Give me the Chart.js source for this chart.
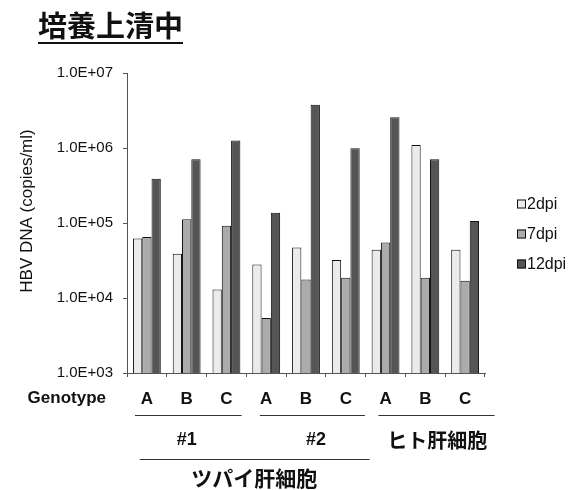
<!DOCTYPE html>
<html><head><meta charset="utf-8">
<script src="https://cdn.jsdelivr.net/npm/chart.js@4"></script>
<style>html,body{margin:0;padding:0;background:#fff}#wrap{width:579px;height:490px;position:relative}</style>
</head><body><div id="wrap"><canvas id="c" width="579" height="490"></canvas></div>
<script>
const categories = ['A','B','C','A','B','C','A','B','C'];
const groupLabels = ['#1','#2','ヒト肝細胞'];
const superGroupLabel = 'ツパイ肝細胞';
const seriesNames = ['2dpi','7dpi','12dpi'];
const dpi2 = [62000, 39000, 13000, 28000, 47000, 32000, 44000, 1100000, 44000];
const dpi7 = [65000, 112000, 92000, 5400, 17700, 18600, 55000, 18600, 17000];
const dpi12 = [390000, 710000, 1260000, 137000, 3780000, 990000, 2570000, 710000, 106000];
const yTickValues = [1e3, 1e4, 1e5, 1e6, 1e7];
const yTickLabels = ['1.0E+03','1.0E+04','1.0E+05','1.0E+06','1.0E+07'];
const titleText = '培養上清中';
const yTitle = 'HBV DNA (copies/ml)';
const xTitle = 'Genotype';

const fills = ['#ebebeb','#ababab','#555555'];
// group bracket spans in category-index units (start, end, label centre)
const groupSpans = [[-0.3, 2.38, 1.0], [2.84, 5.48, 4.25], [5.82, 8.74, 7.3]];
const superSpan = [-0.18, 5.6, 2.7];
const SANS = 'Liberation Sans, Arial, sans-serif';
const CJK = '"Noto Sans CJK JP", sans-serif';

function px(xs, v) {
  const w = xs.getPixelForValue(1) - xs.getPixelForValue(0);
  return xs.getPixelForValue(0) + v * w;
}

const extras = {
  id: 'extras',
  afterDraw(chart) {
    const ctx = chart.ctx;
    const xs = chart.scales.x;
    ctx.save();
    ctx.fillStyle = '#111';
    // title
    ctx.font = 'bold 29px ' + CJK;
    ctx.textBaseline = 'alphabetic';
    ctx.textAlign = 'left';
    ctx.fillText(titleText, 38, 37);
    const tw = ctx.measureText(titleText).width;
    ctx.strokeStyle = '#111'; ctx.lineWidth = 2;
    ctx.beginPath(); ctx.moveTo(38, 43); ctx.lineTo(38 + tw, 43); ctx.stroke();
    // y title
    ctx.save();
    ctx.translate(27, 211);
    ctx.rotate(-Math.PI / 2);
    ctx.textAlign = 'center'; ctx.textBaseline = 'middle';
    ctx.font = '17px ' + SANS;
    ctx.fillText(yTitle, 0, 0);
    ctx.restore();
    // Genotype
    ctx.font = 'bold 17px ' + SANS;
    ctx.textAlign = 'right'; ctx.textBaseline = 'middle';
    ctx.fillText(xTitle, 106, 398);
    // legend
    ctx.textAlign = 'left';
    ctx.font = '16px ' + SANS;
    const ly = [204, 234, 264];
    chart.data.datasets.forEach((ds, i) => {
      ctx.fillStyle = ds.backgroundColor;
      ctx.fillRect(517, ly[i] - 4.5, 9, 9);
      ctx.strokeStyle = '#111'; ctx.lineWidth = 1;
      ctx.strokeRect(517.5, ly[i] - 4, 8, 8);
      ctx.fillStyle = '#111';
      ctx.fillText(ds.label, 527, ly[i] + 1);
    });
    // group lines + labels
    ctx.lineWidth = 1; ctx.strokeStyle = '#333';
    for (let g = 0; g < groupLabels.length; g++) {
      const s = groupSpans[g];
      ctx.beginPath(); ctx.moveTo(px(xs, s[0]), 415.5); ctx.lineTo(px(xs, s[1]), 415.5); ctx.stroke();
      ctx.textAlign = 'center';
      ctx.font = g < 2 ? 'bold 18px ' + SANS : 'bold 20px ' + CJK;
      ctx.fillText(groupLabels[g], px(xs, s[2]), 440);
    }
    ctx.beginPath(); ctx.moveTo(px(xs, superSpan[0]), 459.5); ctx.lineTo(px(xs, superSpan[1]), 459.5); ctx.stroke();
    ctx.font = 'bold 21px ' + CJK;
    ctx.textAlign = 'center';
    ctx.fillText(superGroupLabel, px(xs, superSpan[2]), 478);
    ctx.restore();
  }
};

new Chart(document.getElementById('c'), {
  type: 'bar',
  data: {
    labels: categories,
    datasets: [dpi2, dpi7, dpi12].map((d, i) => ({
      label: seriesNames[i], data: d,
      backgroundColor: fills[i], borderColor: '#111', borderWidth: 1,
      categoryPercentage: 0.7, barPercentage: 1.0
    }))
  },
  options: {
    responsive: false, animation: false,
    layout: { padding: { left: 0, top: 73, right: 94, bottom: 0 } },
    plugins: { title: { display: false }, tooltip: { enabled: false }, legend: { display: false } },
    scales: {
      x: {
        offset: true,
        grid: { display: true, drawOnChartArea: false, offset: true, tickLength: 4, color: '#555' },
        border: { color: '#555', dash: [1, 1] },
        ticks: { color: '#111', padding: 12, font: { family: SANS, size: 17, weight: 'bold' } },
        afterFit(s) { s.height = 117; }
      },
      y: {
        type: 'logarithmic', min: 1e3, max: 1e7,
        afterBuildTicks(s) { s.ticks = yTickValues.map(v => ({ value: v })); },
        grid: { display: true, drawOnChartArea: false, tickLength: 4, color: '#555' },
        border: { color: '#555', dash: [1, 1] },
        ticks: { color: '#111', padding: 10, font: { family: SANS, size: 15 },
          callback(v) { const i = yTickValues.indexOf(v); return i >= 0 ? yTickLabels[i] : ''; } },
        afterFit(s) { s.width = 127; }
      }
    }
  },
  plugins: [extras]
});
</script></body></html>
